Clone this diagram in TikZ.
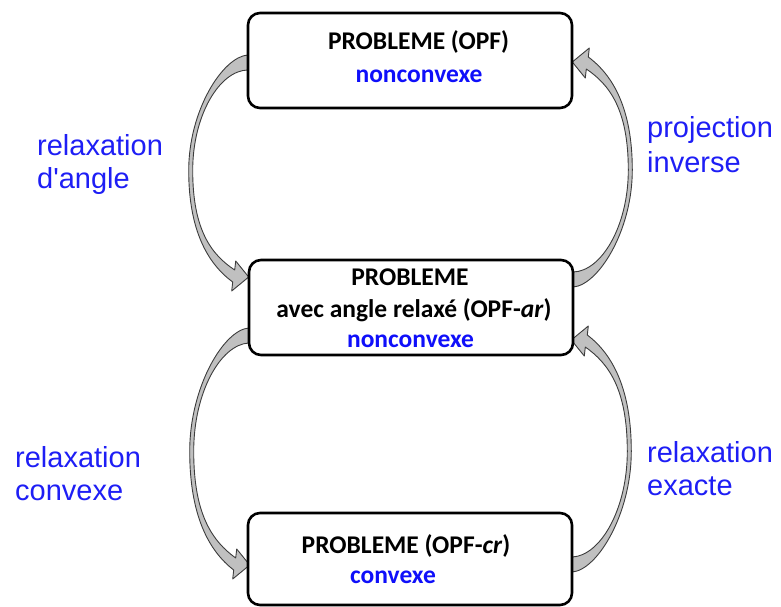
\documentclass[tikz,border=0pt]{standalone}
\usepackage{fontspec}
\setmainfont{Carlito}
\newfontfamily\labfont[Ligatures=TeXOff]{Liberation Sans}
\usetikzlibrary{calc}
\pgfdeclarelayer{background}
\pgfsetlayers{background,main}
\definecolor{arrowfill}{RGB}{192,192,192}
\definecolor{arrowline}{RGB}{60,60,60}
\definecolor{textblue}{RGB}{15,15,250}
\definecolor{labelblue}{RGB}{30,30,245}

\begin{document}
\begin{tikzpicture}[x=1pt,y=-1pt,
  box/.style={draw=black, line width=2.6pt, rounded corners=12pt, fill=white,
    minimum width=324pt, minimum height=95pt, inner sep=0pt},
  title/.style={anchor=base, inner sep=0pt, font=\bfseries\fontsize{25.5}{30}\selectfont},
  kind/.style={title, text=textblue},
  lab/.style={anchor=base west, inner sep=0pt, text=labelblue,
    font=\labfont\fontsize{29}{33}\selectfont},
  bendarrow/.style={fill=arrowfill, draw=arrowline, line width=0.9pt, line join=round},
  % curved block arrow: tail at the origin (15 wide), head #1 below it
  pics/bend/.style={code={
    \draw[bendarrow] (0,0)
      .. controls (-25,2) and (-59,{0.25*#1}) .. (-59,{0.52*#1})
      .. controls (-59,{0.79*#1}) and (-40,{0.94*#1}) .. (-15,{#1+5})
      -- (-16,{#1+14}) -- (1,#1) -- (-12,{#1-16}) -- (-13,{#1-7})
      .. controls (-36,{0.9*#1}) and (-55,{0.79*#1}) .. (-55,{0.52*#1})
      .. controls (-55,{0.27*#1}) and (-28,{0.07*#1}) .. (0,15) -- cycle;
  }}
]
\useasboundingbox (0,0) rectangle (781,607);

% problem boxes
\node[box] (top) at (410,60.5) {};
\node[box] (mid) at (411,307.5) {};
\node[box, minimum height=92pt] (bot) at (410,559) {};

\node[title] (t1a) at (418.5,50) {PROBLEME (OPF)};
\node[kind]  (t1b) at (419,83) {nonconvexe};

\node[title] (t2a) at (410,285) {PROBLEME};
\node[title] (t2b) at (414,317) {avec angle relaxé (OPF-\textit{ar})};
\node[kind]  (t2c) at (410.5,347) {nonconvexe};

\node[title] (t3a) at (406,553) {PROBLEME (OPF-\textit{cr})};
\node[kind]  (t3b) at (393,583) {convexe};

% curved arrows between the boxes
\begin{pgfonlayer}{background}
  \pic at ($(top.west)+(1,-5.5)$) {bend=222};
  \pic[rotate=180] at ($(mid.east)+(-1,-20.5)$) {bend=225};
  \pic at ($(mid.west)+(1,20.5)$) {bend=237};
  \pic[rotate=180] at ($(bot.east)+(-1,13)$) {bend=232};
\end{pgfonlayer}

% arrow labels
\node[lab] (l1a) at (37,155) {relaxation};
\node[lab] (l1b) at (37,188) {d'angle};
\node[lab] (r1a) at (647,138) {projection};
\node[lab] (r1b) at (647,172) {inverse};
\node[lab] (l2a) at (15,467) {relaxation};
\node[lab] (l2b) at (15,500) {convexe};
\node[lab] (r2a) at (647,462) {relaxation};
\node[lab] (r2b) at (647,495) {exacte};
\end{tikzpicture}
\end{document}
